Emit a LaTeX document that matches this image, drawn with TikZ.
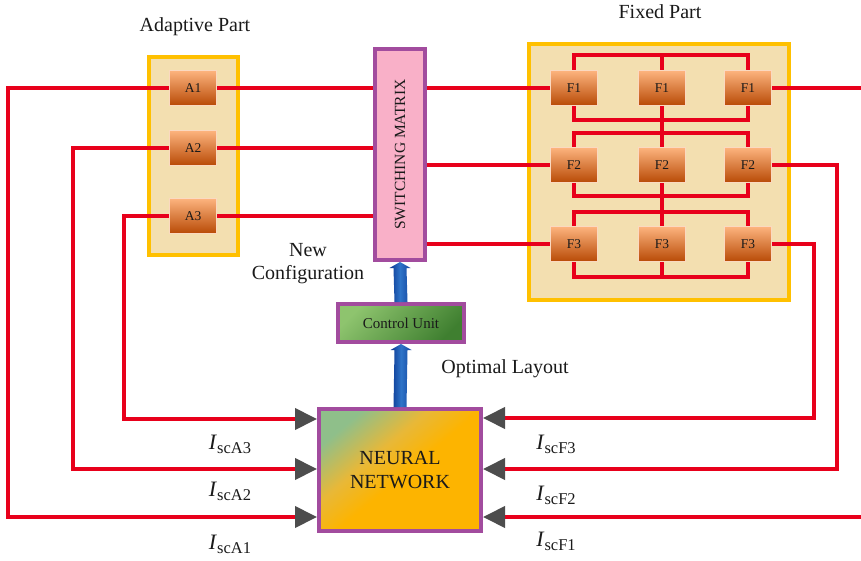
\documentclass[tikz,border=0pt]{standalone}
\usepackage{fontspec}
\setmainfont{Liberation Serif}
\usetikzlibrary{arrows.meta,calc}

\definecolor{wire}{HTML}{E8001B}
\definecolor{panelfill}{HTML}{F3DFB0}
\definecolor{paneledge}{HTML}{FFC000}
\definecolor{plum}{HTML}{A24C9E}
\definecolor{pinkfill}{HTML}{F9B0C8}
\definecolor{tipgray}{HTML}{4D4D4D}
\definecolor{celltop}{HTML}{FDB47E}
\definecolor{cellmid}{HTML}{F4883A}
\definecolor{cellbot}{HTML}{B84A06}
\definecolor{celledge}{HTML}{FBD9C0}
\definecolor{cugreenA}{HTML}{8EC46E}
\definecolor{cugreenB}{HTML}{3F7F30}
\definecolor{nngreen}{HTML}{8FBF8A}
\definecolor{nnmid}{HTML}{E8B838}
\definecolor{nnorange}{HTML}{FDB400}
\definecolor{flowdark}{HTML}{0A3590}
\definecolor{flowlight}{HTML}{2E74C8}
\definecolor{ink}{HTML}{1A1A1A}

% neural network fill: green only towards one corner, orange elsewhere
\pgfdeclareverticalshading{nnfill}{100bp}{color(0bp)=(nnorange); color(25bp)=(nnorange);
  color(48bp)=(nnorange); color(60bp)=(nnmid); color(75bp)=(nngreen); color(100bp)=(nngreen)}

\newcommand{\isc}[1]{{\fontsize{22}{26}\selectfont\textit{I}}\raisebox{-4pt}{\fontsize{16.5}{18}\selectfont sc#1}}

\begin{document}
\begin{tikzpicture}[x=1pt,y=-1pt,
  every node/.style={text=ink, inner sep=0pt},
  panel/.style={draw=paneledge, fill=panelfill, line width=4pt},
  cell/.style={draw=celledge, line width=0.8pt, top color=celltop, middle color=cellmid, bottom color=cellbot,
               minimum width=47pt, minimum height=35pt, font=\fontsize{13.5}{15}\selectfont},
  wirepath/.style={draw=wire, line width=4pt},
  sense/.style={wirepath, -{Triangle[length=22pt,width=21pt,color=tipgray]}},
  plumbox/.style={draw=plum, line width=4pt},
  flow/.style={left color=flowdark, right color=flowdark!70!flowlight, middle color=flowlight},
  caption/.style={font=\fontsize{20}{24}\selectfont, align=center}
]
\useasboundingbox (0,0) rectangle (861,561);

% titles
\node[caption] (tadapt) at (195,27) {Adaptive Part};
\node[caption] (tfixed) at (660,12) {Fixed Part};

% adaptive and fixed panels
\node[panel, minimum width=89pt, minimum height=198pt] (adapt) at (193.5,156) {};
\node[panel, minimum width=260pt, minimum height=256pt] (fixed) at (659,172) {};

% switching matrix
\node[plumbox, fill=pinkfill, minimum width=50pt, minimum height=211pt] (sm) at (400,154.5) {};
\node[rotate=90, font=\fontsize{15.5}{18}\selectfont] (smtext) at (sm.center) {SWITCHING MATRIX};

% control unit
\node[plumbox, top color=cugreenA, bottom color=cugreenB, shading angle=45,
      minimum width=126pt, minimum height=38pt, font=\fontsize{15}{18}\selectfont] (cu) at (401,323) {Control Unit};

% neural network
\node[plumbox, shading=nnfill, shading angle=40,
      minimum width=162pt, minimum height=122pt, caption] (nn) at (400,470) {NEURAL\\NETWORK};

% turning points of the wires
\coordinate (a1l) at (8,88);
\coordinate (a2l) at (73,148);
\coordinate (a3l) at (124,216);
\coordinate (f2r) at (837,165);
\coordinate (f3r) at (814,244);
\coordinate (f1out) at (861,88);
\coordinate (f1in) at (861,517);

% levels of the buses inside the fixed part
\foreach \r/\yt/\yb in {1/55/120, 2/133/196, 3/212/277} {
  \coordinate (bt\r) at (0,\yt);
  \coordinate (bb\r) at (0,\yb);
}

% cell positions
\foreach \n/\y in {1/88, 2/148, 3/216}
  \coordinate (Apos\n) at (193,\y);
\foreach \r/\y in {1/88, 2/165, 3/244}
  \foreach \c/\x in {a/574, b/662, c/748}
    \coordinate (Fpos\r\c) at (\x,\y);

\foreach \n in {1,2,3}
  \node[cell] (A\n) at (Apos\n) {A\n};
\foreach \r in {1,2,3}
  \foreach \c in {a,b,c}
    \node[cell] (F\r\c) at (Fpos\r\c) {F\r};

% wires: adaptive cells to switching matrix
\foreach \n in {1,2,3}
  \draw[wirepath] (A\n.east) -- (A\n.east -| sm.west);

% wires: switching matrix to fixed cells
\draw[wirepath] (sm.east |- F1a.west) -- (F1a.west);
\draw[wirepath] (sm.east |- F2a.west) -- (F2a.west);
\draw[wirepath] (sm.east |- F3a.west) -- (F3a.west);

% buses inside the fixed part
\foreach \r in {1,2,3} {
  \draw[wirepath] (F\r a.north) -- (F\r a.north |- bt\r) -- (F\r c.north |- bt\r) -- (F\r c.north);
  \draw[wirepath] (F\r a.south) -- (F\r a.south |- bb\r) -- (F\r c.south |- bb\r) -- (F\r c.south);
}
\draw[wirepath] (F1b.north) -- (F1b.north |- bt1);
\draw[wirepath] (F1b.south) -- (F2b.north);
\draw[wirepath] (F2b.south) -- (F3b.north);
\draw[wirepath] (F3b.south) -- (F3b.south |- bb3);

% short-circuit current feedback to the neural network
\draw[sense] (A1.west) -- (a1l) -- (a1l |- f1in) -- (nn.west |- f1in);
\draw[sense] (A2.west) -- (a2l) -- (a2l |- 0,469) -- (nn.west |- 0,469);
\draw[sense] (A3.west) -- (a3l) -- (a3l |- 0,419) -- (nn.west |- 0,419);
\draw[wirepath] (F1c.east) -- (f1out);
\draw[sense] (F2c.east) -- (f2r) -- (f2r |- 0,469) -- (nn.east |- 0,469);
\draw[sense] (F3c.east) -- (f3r) -- (f3r |- 0,418) -- (nn.east |- 0,418);
\draw[sense] (f1in) -- (nn.east |- f1in);

% cells on top of the wires
\foreach \n in {1,2,3}
  \node[cell] at (A\n) {A\n};
\foreach \r in {1,2,3}
  \foreach \c in {a,b,c}
    \node[cell] at (F\r\c) {F\r};

% control flow arrows
\shade[flow] ($(nn.north)+(-6.5,0)$) -- ($(cu.south)+(-6.5,6)$) -- ($(cu.south)+(-10.5,6)$) -- (cu.south)
  -- ($(cu.south)+(10.5,6)$) -- ($(cu.south)+(6.5,6)$) -- ($(nn.north)+(6.5,0)$) -- cycle;
\shade[flow] ($(cu.north)+(-6.5,0)$) -- ($(sm.south)+(-6.5,6)$) -- ($(sm.south)+(-10.5,6)$) -- (sm.south)
  -- ($(sm.south)+(10.5,6)$) -- ($(sm.south)+(6.5,6)$) -- ($(cu.north)+(6.5,0)$) -- cycle;

% labels
\node[caption] (newcfg) at (308,264) {New\\[-1pt]Configuration};
\node[caption] (optlay) at (505,369) {Optimal Layout};

\node (lA3) at (230,444) {\isc{A3}};
\node (lA2) at (230,491) {\isc{A2}};
\node (lA1) at (230,544) {\isc{A1}};
\node (lF3) at (556,444) {\isc{F3}};
\node (lF2) at (556,495) {\isc{F2}};
\node (lF1) at (556,541) {\isc{F1}};
\end{tikzpicture}
\end{document}
